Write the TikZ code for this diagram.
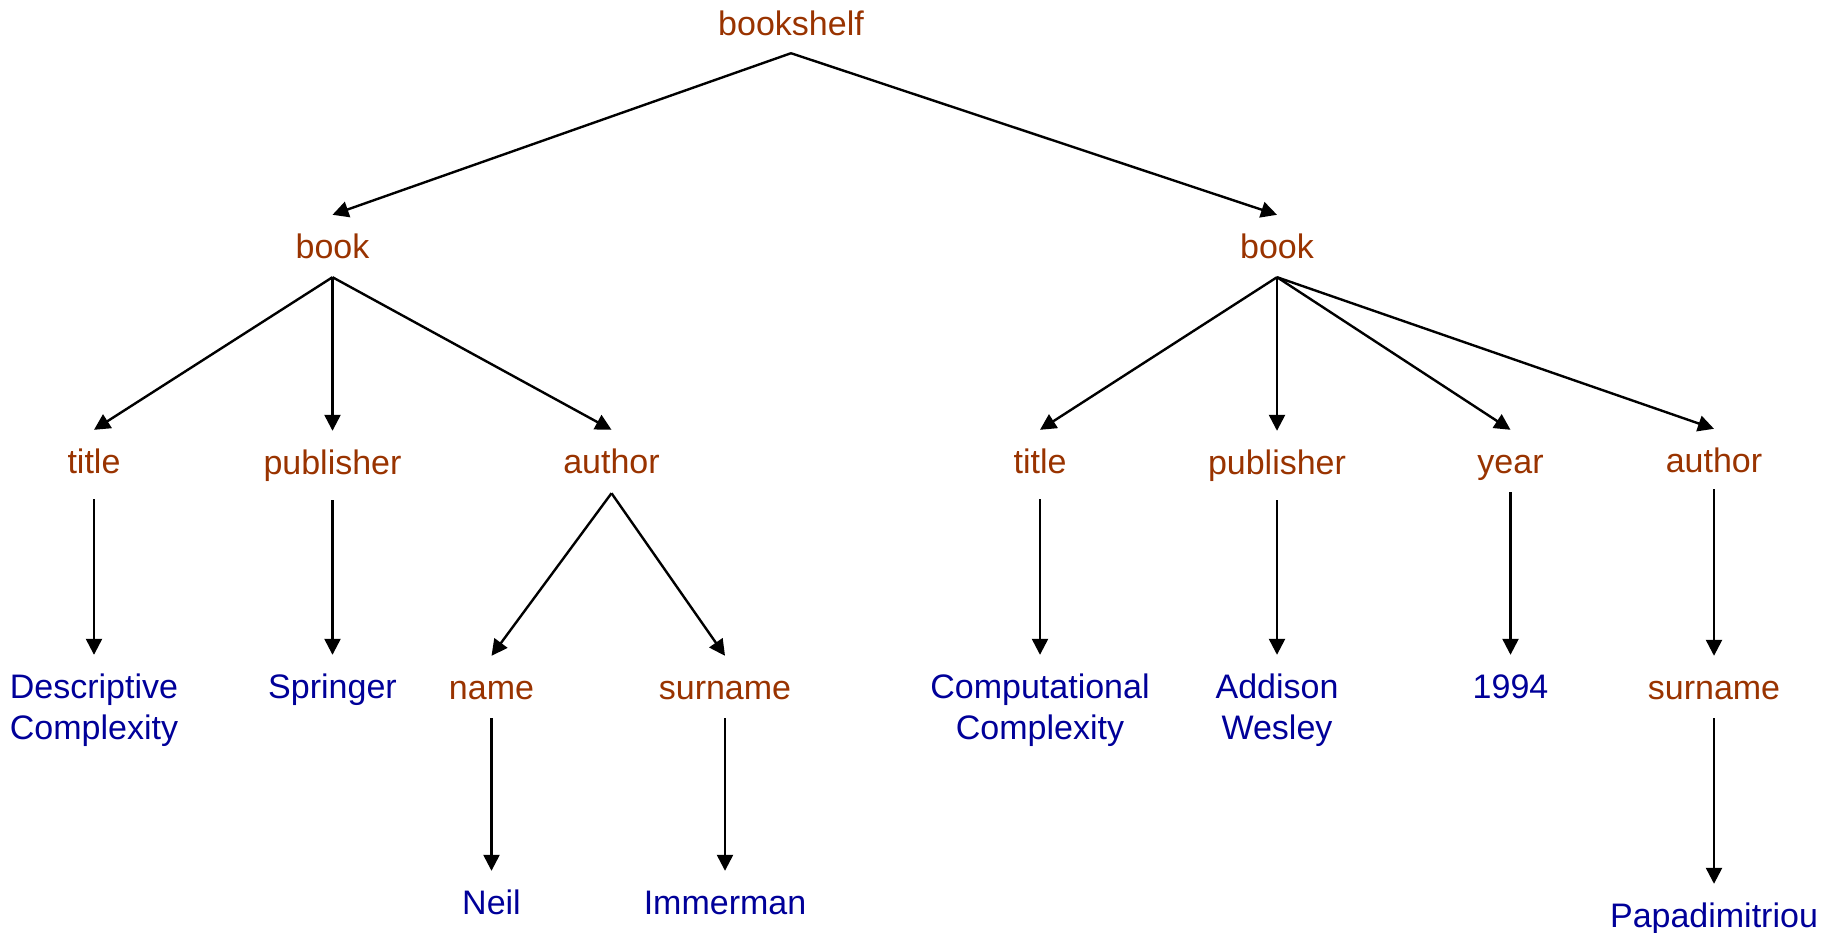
\documentclass[tikz,border=0pt]{standalone}
\usepackage{fontspec}
\setmainfont{Liberation Sans}
\usetikzlibrary{arrows.meta}
\definecolor{tagbrown}{RGB}{153,51,0}
\definecolor{valblue}{RGB}{0,0,153}
\tikzset{
  lbl/.style={anchor=base, inner sep=0pt, text height=43pt, text depth=19pt,
    font=\fontsize{34}{41}\selectfont, align=center},
  tag/.style={lbl, text=tagbrown},
  val/.style={lbl, text=valblue},
  twoline/.style={text height=84pt},
  deep/.style={text depth=26pt},
  edge/.style={line width=2.4pt, -{Triangle[width=16pt,length=16pt]}}
}
\begin{document}
\begin{tikzpicture}[x=1pt,y=1pt]
\useasboundingbox (0,0) rectangle (1835,-932);
% level 0
\node[tag, text depth=18pt] (bs) at (791,-35) {bookshelf};
% level 1
\node[tag] (bookL) at (332.5,-258) {book};
\node[tag] (bookR) at (1277,-258) {book};
% level 2
\node[tag,deep] (titleL) at (94,-473) {title};
\node[tag,deep] (pubL) at (332.5,-474) {publisher};
\node[tag,text depth=20pt] (authL) at (611.5,-473) {author};
\node[tag,deep] (titleR) at (1040,-473) {title};
\node[tag,deep] (pubR) at (1277,-474) {publisher};
\node[tag] (year) at (1510.5,-473) {year};
\node[tag,text depth=17pt] (authR) at (1714,-472) {author};
% level 3
\node[val,twoline] (desc) at (94,-739) {Descriptive\\Complexity};
\node[val] (spr) at (332.5,-698) {Springer};
\node[tag] (name) at (491.5,-699) {name};
\node[tag] (surL) at (725,-699) {surname};
\node[val,twoline] (comp) at (1040,-739) {Computational\\Complexity};
\node[val,twoline] (addw) at (1277,-739) {Addison\\Wesley};
\node[val] (yr) at (1510.5,-698) {1994};
\node[tag] (surR) at (1714,-699) {surname};
% level 4
\node[val] (neil) at (491.5,-914) {Neil};
\node[val] (imm) at (725,-914) {Immerman};
\node[val] (papa) at (1714,-927) {Papadimitriou};
% edges
\draw[edge] (bs.south) -- (bookL.north);
\draw[edge] (bs.south) -- (bookR.north);
\draw[edge] (bookL.south) -- (titleL.north);
\draw[edge] (bookL.south) -- (pubL.north);
\draw[edge] (bookL.south) -- (authL.north);
\draw[edge] (bookR.south) -- (titleR.north);
\draw[edge] (bookR.south) -- (pubR.north);
\draw[edge] (bookR.south) -- (year.north);
\draw[edge] (bookR.south) -- (authR.north);
\draw[edge] (titleL.south) -- (desc.north);
\draw[edge] (pubL.south) -- (spr.north);
\draw[edge] (authL.south) -- (name.north);
\draw[edge] (authL.south) -- (surL.north);
\draw[edge] (titleR.south) -- (comp.north);
\draw[edge] (pubR.south) -- (addw.north);
\draw[edge] (year.south) -- (yr.north);
\draw[edge] (authR.south) -- (surR.north);
\draw[edge] (name.south) -- (neil.north);
\draw[edge] (surL.south) -- (imm.north);
\draw[edge] (surR.south) -- (papa.north);
\end{tikzpicture}
\end{document}
